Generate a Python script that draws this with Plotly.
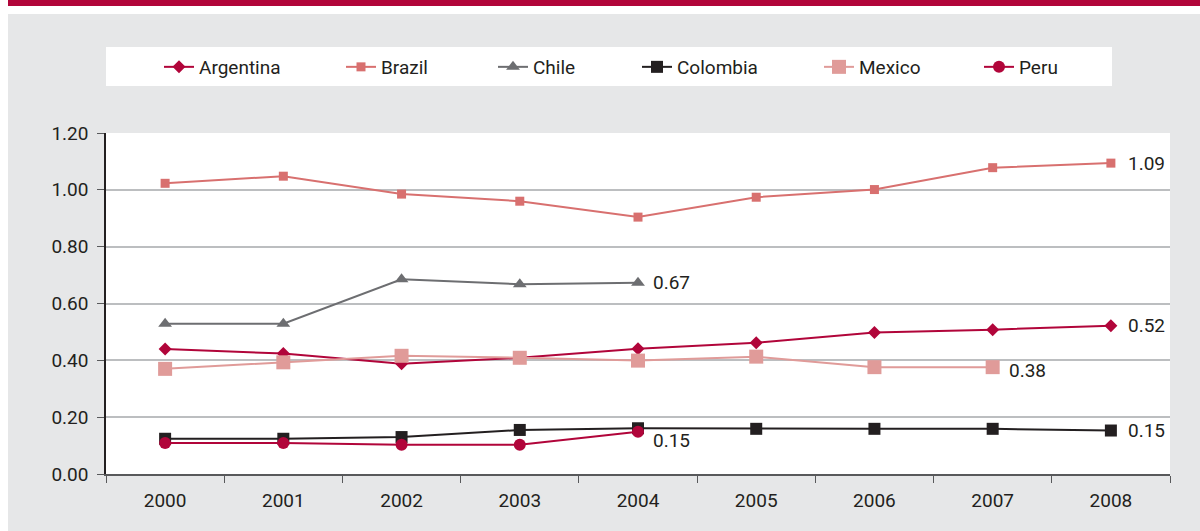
import plotly.graph_objects as go

years = ["2000", "2001", "2002", "2003", "2004", "2005", "2006", "2007", "2008"]
argentina = [0.44, 0.424, 0.388, 0.409, 0.441, 0.462, 0.498, 0.508, 0.522]
brazil = [1.023, 1.048, 0.985, 0.960, 0.904, 0.974, 1.001, 1.078, 1.094]
chile = [0.529, 0.529, 0.685, 0.668, 0.673]
colombia = [0.124, 0.124, 0.130, 0.155, 0.161, 0.159, 0.159, 0.159, 0.153]
mexico = [0.370, 0.393, 0.416, 0.409, 0.399, 0.413, 0.376, 0.376]
peru = [0.109, 0.109, 0.103, 0.103, 0.149]

end_labels = {"Argentina": "0.52", "Brazil": "1.09", "Chile": "0.67",
              "Colombia": "0.15", "Mexico": "0.38", "Peru": "0.15"}

FONT = "Roboto, Liberation Sans Narrow, sans-serif"
TXT = "#231F20"

series = [
    ("Argentina", argentina, "#B1053A", "diamond", 10, 15, 0),
    ("Brazil", brazil, "#D8706F", "square", 9, 15, 0),
    ("Chile", chile, "#6D6E71", "triangle-up", 12, 13, 0),
    ("Colombia", colombia, "#231F20", "square", 12, 15, 0),
    ("Mexico", mexico, "#E09B99", "square", 14, 14, -3),
    ("Peru", peru, "#B1053A", "circle", 12, 13, -9),
]

legend_x = [159, 341, 493, 637, 819, 979]

fig = go.Figure()
annotations = []
for i, (name, vals, col, sym, size, xs, ys) in enumerate(series):
    n = len(vals)
    fig.add_trace(go.Scatter(
        x=years[:n], y=vals, name=name, mode="lines+markers",
        line=dict(color=col, width=2),
        marker=dict(symbol=sym, size=size, color=col),
        legend="legend" if i == 0 else f"legend{i+1}",
    ))
    annotations.append(dict(
        x=n - 1, y=vals[-1], xref="x", yref="y",
        text=end_labels[name], showarrow=False,
        xanchor="left", yanchor="middle", xshift=xs, yshift=ys,
        font=dict(family=FONT, size=19, color=TXT),
    ))

legend_common = dict(orientation="h", bgcolor="rgba(0,0,0,0)",
                     font=dict(family=FONT, size=19, color=TXT),
                     xref="container", yref="container",
                     xanchor="left", yanchor="middle", y=1 - 67 / 531)
layout_legends = {}
for i, lx in enumerate(legend_x):
    key = "legend" if i == 0 else f"legend{i+1}"
    layout_legends[key] = dict(legend_common, x=lx / 1200)

L, R, T, B = 106, 30, 133, 57
W, H = 1200, 531
pw, ph = W - L - R, H - T - B

def px(x):
    return (x - L) / pw

def py(y):
    return (H - B - y) / ph

shapes = [
    dict(type="rect", xref="paper", yref="paper", x0=px(0), x1=px(W), y0=py(0), y1=py(14),
         fillcolor="white", line=dict(width=0), layer="below"),
    dict(type="rect", xref="paper", yref="paper", x0=px(0), x1=px(8), y0=py(0), y1=py(H),
         fillcolor="white", line=dict(width=0), layer="below"),
    dict(type="rect", xref="paper", yref="paper", x0=px(8), x1=px(W), y0=py(0), y1=py(6),
         fillcolor="#B1053A", line=dict(width=0), layer="below"),
    dict(type="rect", xref="paper", yref="paper", x0=px(106), x1=px(1112), y0=py(47), y1=py(86),
         fillcolor="white", line=dict(width=0), layer="below"),
]

fig.update_layout(
    width=W, height=H,
    margin=dict(l=L, r=R, t=T, b=B),
    paper_bgcolor="#E6E7E8", plot_bgcolor="white",
    font=dict(family=FONT, size=19, color=TXT),
    shapes=shapes, annotations=annotations,
    showlegend=True,
    **layout_legends,
)
fig.update_xaxes(type="category", range=[-0.5, 8.5], tickson="boundaries",
                 showline=True, linecolor="#58595B", linewidth=1.5,
                 ticks="outside", ticklen=7, tickcolor="#58595B",
                 showgrid=False, ticklabelstandoff=8,
                 tickfont=dict(family=FONT, size=19, color=TXT), fixedrange=True)
fig.update_yaxes(range=[0, 1.2], dtick=0.2, tickformat=".2f",
                 showline=True, linecolor="#231F20", linewidth=1.5,
                 ticks="outside", ticklen=7, tickcolor="#58595B",
                 gridcolor="#BCBEC0", gridwidth=1.5, zeroline=False,
                 ticklabelstandoff=5,
                 tickfont=dict(family=FONT, size=19, color=TXT), fixedrange=True)

fig.write_html("out.html", config={"displayModeBar": False},
               post_script="document.body.style.margin='0';")
